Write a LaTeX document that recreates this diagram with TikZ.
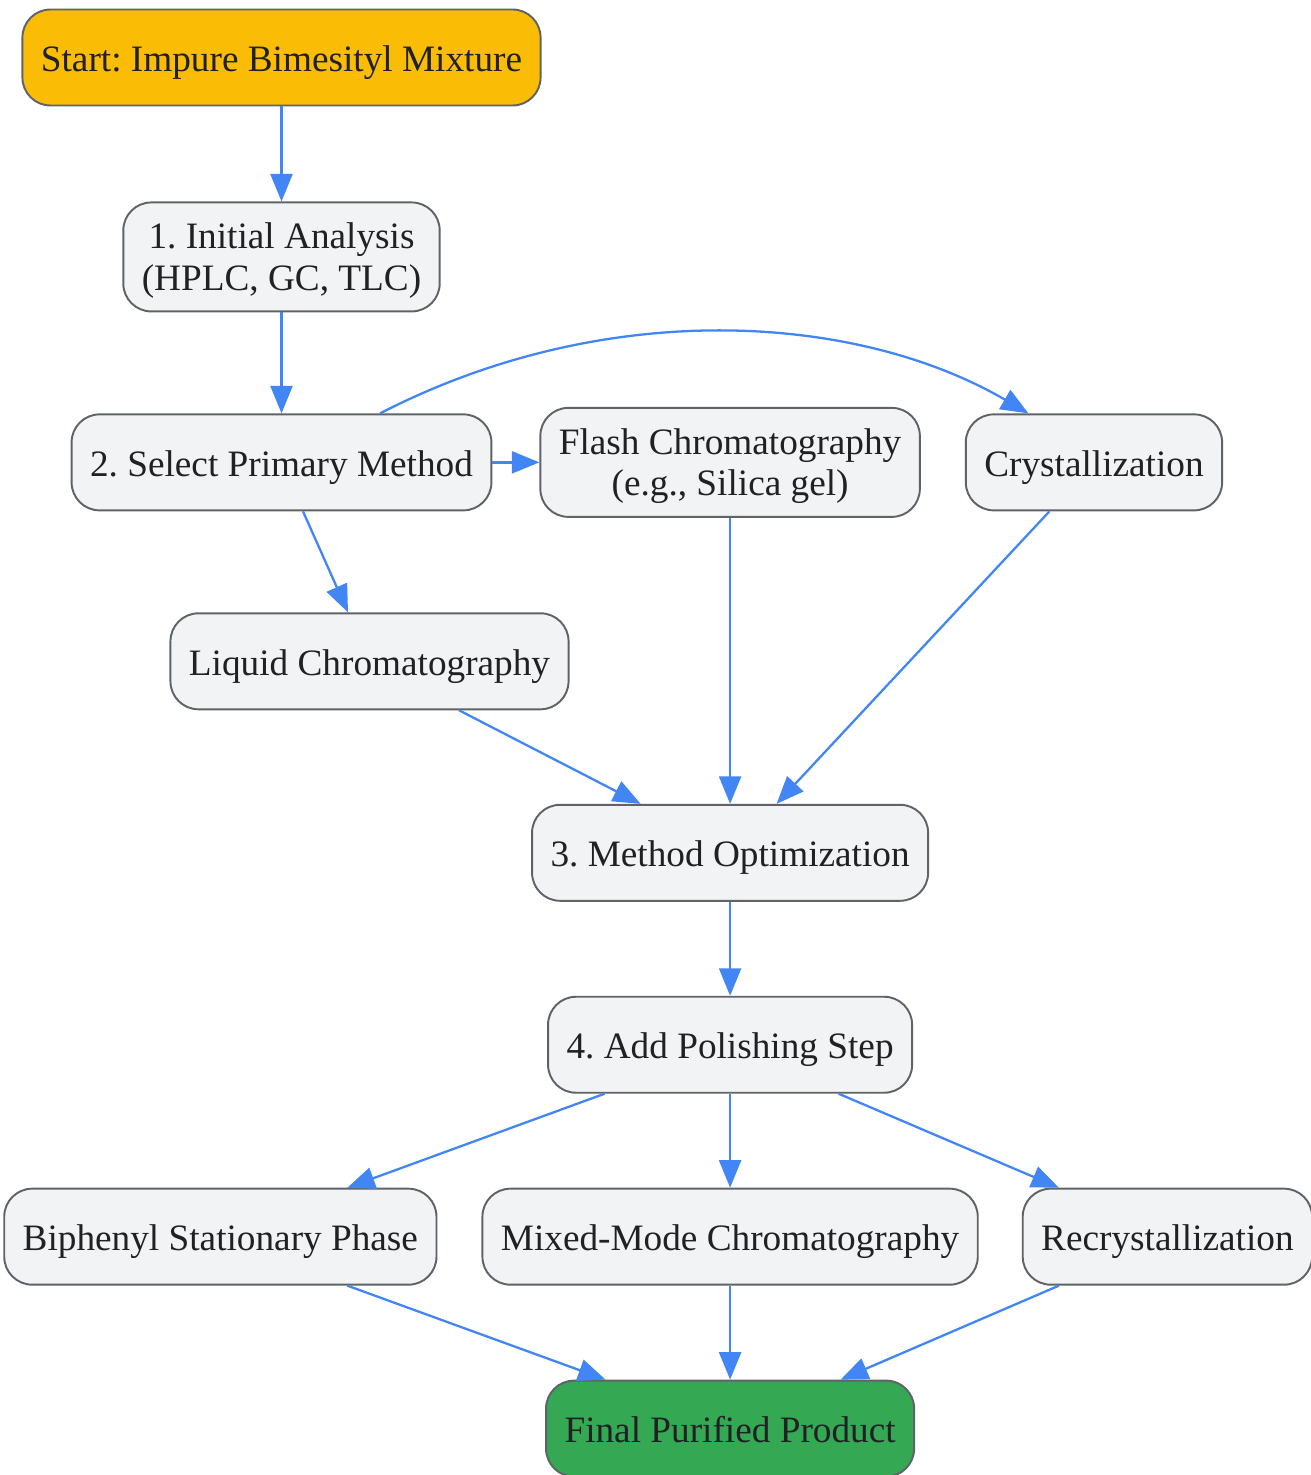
\documentclass[tikz,border=0pt]{standalone}
\usepackage{fontspec}
\setmainfont{Liberation Serif}
\usetikzlibrary{positioning, arrows.meta}
\definecolor{startc}{RGB}{251,188,5}
\definecolor{endc}{RGB}{52,168,83}
\definecolor{boxc}{RGB}{241,243,244}
\definecolor{edgec}{RGB}{95,99,104}
\definecolor{arrc}{RGB}{66,133,244}
\definecolor{txtc}{RGB}{32,33,36}
\tikzstyle{stepbox}=[rectangle, rounded corners=.56cm, draw=edgec, line width=1.1pt, fill=boxc, text=txtc, align=center, inner xsep=.37cm, minimum height=1.92cm, text height=.56cm, text depth=0cm, font=\fontsize{21.2}{23.6}\selectfont\frenchspacing]
\tikzstyle{twoline}=[minimum height=2.18cm, text height=1.39cm, text depth=.05cm]
\tikzstyle{flow}=[draw=arrc, line width=1.3pt, -{Triangle[length=.55cm, width=.44cm]}]

\begin{document}
\begin{tikzpicture}
            %Purification workflow, top to bottom
            \useasboundingbox (0,0) rectangle (26.2,-29.5);
            \node[stepbox, fill=startc](start) at (5.63,-1.15){Start: Impure Bimesityl Mixture};
            \node[stepbox, twoline, below =1.90cm of start](a1){1. Initial Analysis\\(HPLC, GC, TLC)};
            \node[stepbox, below =2.02cm of a1](sel){2. Select Primary Method};
            \node[stepbox, twoline, right =.94cm of sel](flash){Flash Chromatography\\(e.g., Silica gel)};
            \node[stepbox, right =.88cm of flash](cryst){Crystallization};
            \node[stepbox, below =2.02cm of sel, xshift=1.76cm](liq){Liquid Chromatography};
            \node[stepbox, below =5.72cm of flash](opt){3. Method Optimization};
            \node[stepbox, below =1.88cm of opt](pol){4. Add Polishing Step};
            \node[stepbox, below =1.88cm of pol](mix){Mixed-Mode Chromatography};
            \node[stepbox, left =.88cm of mix](bip){Biphenyl Stationary Phase};
            \node[stepbox, right =.86cm of mix](rec){Recrystallization};
            \node[stepbox, fill=endc, below =1.88cm of mix](fin){Final Purified Product};
            \draw[flow] (start) to (a1);
            \draw[flow] (a1) to (sel);
            \draw[flow] (sel) to (flash);
            \draw[flow] ([xshift=1.97cm]sel.north) .. controls (12.2,-5.9) and (17.2,-6.3) .. ([xshift=-1.31cm]cryst.north);
            \draw[flow] ([xshift=.43cm]sel.south) to ([xshift=-.43cm]liq.north);
            \draw[flow] (flash) to (opt);
            \draw[flow] ([xshift=-.89cm]cryst.south) to ([xshift=.93cm]opt.north);
            \draw[flow] ([xshift=1.79cm]liq.south) to ([xshift=-1.79cm]opt.north);
            \draw[flow] (opt) to (pol);
            \draw[flow] ([xshift=-2.51cm]pol.south) to ([xshift=2.54cm]bip.north);
            \draw[flow] (pol) to (mix);
            \draw[flow] ([xshift=2.17cm]pol.south) to ([xshift=-2.17cm]rec.north);
            \draw[flow] ([xshift=2.54cm]bip.south) to ([xshift=-2.49cm]fin.north);
            \draw[flow] (mix) to (fin);
            \draw[flow] ([xshift=-2.17cm]rec.south) to ([xshift=2.21cm]fin.north);
        \end{tikzpicture}
\end{document}
